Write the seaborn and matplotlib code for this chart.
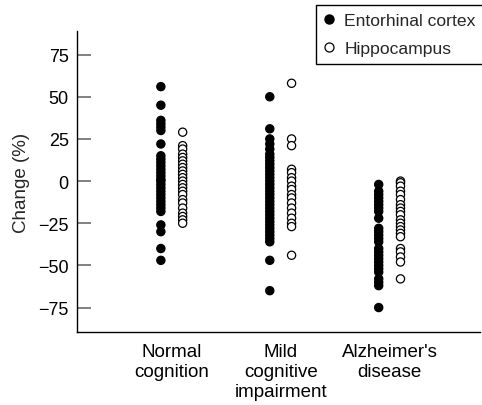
import matplotlib
matplotlib.use("Agg")
import matplotlib.pyplot as plt
from matplotlib.lines import Line2D
import seaborn as sns
import pandas as pd

# ---- data ----
groups = ["Normal\ncognition", "Mild\ncognitive\nimpairment", "Alzheimer's\ndisease"]
regions = ["Entorhinal cortex", "Hippocampus"]

normal_ec = [56, 45, 36, 34, 32, 30, 22, 15, 13, 11, 9, 7, 5, 3, 1, 0, -2, -4, -6,
             -8, -10, -12, -14, -16, -18, -26, -30, -40, -47]
normal_hc = [29, 21, 19, 16, 14, 12, 10, 8, 6, 4, 2, 0, -2, -4, -6, -8, -11, -13,
             -16, -19, -21, -23, -25]
mild_ec = [50, 31, 25, 22, 19, 16, 14, 12, 10, 8, 6, 4, 2, 0, -2, -4, -6, -8, -10,
           -12, -14, -16, -18, -20, -22, -24, -26, -28, -30, -32, -34, -36, -47, -65]
mild_hc = [58, 25, 21, 7, 5, 2, 0, -3, -5, -8, -10, -13, -16, -19, -22, -25, -27, -44]
ad_ec = [-2, -6, -8, -10, -12, -14, -16, -18, -22, -28, -30, -32, -34, -36, -40,
         -42, -44, -46, -48, -50, -52, -54, -58, -60, -62, -75]
ad_hc = [0, -1, -3, -6, -8, -11, -14, -16, -18, -20, -23, -25, -27, -29, -31, -33,
         -40, -42, -45, -48, -58]

yticks = [-75, -50, -25, 0, 25, 50, 75]

series = {
    (groups[0], regions[0]): normal_ec, (groups[0], regions[1]): normal_hc,
    (groups[1], regions[0]): mild_ec, (groups[1], regions[1]): mild_hc,
    (groups[2], regions[0]): ad_ec, (groups[2], regions[1]): ad_hc,
}
rows = []
for (g, r), vals in series.items():
    for v in vals:
        rows.append({"group": g, "region": r, "change": v})
df = pd.DataFrame(rows)

# ---- style ----
sns.set_theme(style="white")
plt.rcParams["font.family"] = ["Liberation Sans", "DejaVu Sans"]
plt.rcParams["font.size"] = 13

fig = plt.figure(figsize=(4.82, 4.06), dpi=100)
ax = fig.add_axes([77 / 482, 73 / 406, 403 / 482, 301 / 406])

# outer pad levels keep the two regions close together around each category
hue_order = ["_pad_l", regions[0], regions[1], "_pad_r"]
palette = {"_pad_l": "white", regions[0]: "black", regions[1]: "white", "_pad_r": "white"}

sns.stripplot(data=df, x="group", y="change", hue="region", order=groups,
              hue_order=hue_order, palette=palette, dodge=True, jitter=False,
              size=5.9, edgecolor="black", linewidth=0.9, legend=False, ax=ax)

ax.set_xlim(-0.87, 2.83)
ax.set_ylim(-89.5, 89)
ax.set_yticks(yticks)
ax.set_yticklabels([f"{t}".replace("-", "\u2212") for t in yticks], fontsize=13)
ax.set_xlabel("")
ax.set_ylabel("Change (%)", fontsize=13.5, labelpad=6)

for s in ["top", "right"]:
    ax.spines[s].set_visible(False)
for s in ["left", "bottom"]:
    ax.spines[s].set_color("black")
    ax.spines[s].set_linewidth(1.0)

ax.tick_params(axis="y", left=True, direction="in", length=10, width=1.3,
               color="#777777", pad=6, labelcolor="black")
ax.tick_params(axis="x", bottom=False, length=0, pad=8, labelsize=13.5,
               labelcolor="black")
for lab in ax.get_xticklabels():
    lab.set_linespacing(1.22)

handles = [
    Line2D([], [], linestyle="none", marker="o", markersize=6.5,
           markerfacecolor="black", markeredgecolor="black"),
    Line2D([], [], linestyle="none", marker="o", markersize=6.5,
           markerfacecolor="white", markeredgecolor="black", markeredgewidth=0.9),
]
leg = ax.legend(handles, regions, loc="upper right", bbox_to_anchor=(1.003, 0.985),
                bbox_transform=fig.transFigure, frameon=True, fancybox=False,
                edgecolor="black", framealpha=1, borderpad=0.45, handlelength=0.6,
                handletextpad=0.55, labelspacing=0.7, borderaxespad=0, fontsize=12.6)
leg.get_frame().set_linewidth(1.0)

fig.savefig("out.png", dpi=100)
